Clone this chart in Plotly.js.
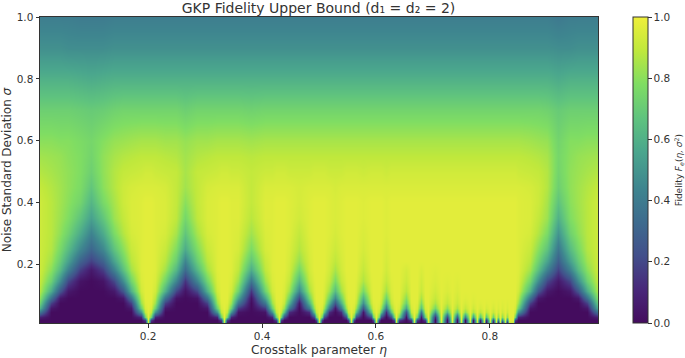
<!DOCTYPE html>
<html><head><meta charset="utf-8">
<script src="https://cdn.plot.ly/plotly-3.0.1.min.js"></script>
<style>html,body{margin:0;padding:0;background:#fff}</style></head>
<body><div id="c" style="width:685px;height:358px"></div>
<script>
const titleText = "GKP Fidelity Upper Bound (d\u2081 = d\u2082 = 2)";
const xTitle = "Crosstalk parameter <i>\u03b7</i>";
const yTitle = "Noise Standard Deviation <i>\u03c3</i>";
const barTitle = "Fidelity <i>F<sub>e</sub></i>(<i>\u03b7, \u03c3</i><sup>2</sup>)";
const sigma = [.01,.02,.03,.045,.06,.075,.09,.115,.145,.18,.21,.25,.3,.35,.4,.45,.5,.55,.6,.7,.8,.9,1];
const upper = [.97,.97,.97,.97,.97,.95,.93,.89,.85,.74,.6,.48,.41];
const P   = [.9,.97,.97,.97,.97,.97,.97,.97,.97,.97,...upper];
const E1  = [0,0,.08,.38,.6,.72,.8,.87,.9,.92,.92,.92,.92,.92,.92,.9,.87,.84,.8,.72,.6,.48,.41];
const E3  = [0,0,0,0,.05,.18,.36,.58,.72,.8,.84,.87,.88,.88,.88,.87,.85,.83,.8,.72,.6,.48,.41];
const E45 = [0,0,0,0,0,0,.05,.25,.47,.63,.7,.76,.81,.83,.84,.84,.83,.82,.79,.72,.6,.48,.41];
const E6  = [0,0,0,0,0,0,0,.05,.2,.42,.54,.64,.73,.78,.8,.81,.81,.8,.79,.72,.6,.47,.41];
const E8  = [0,0,0,0,0,0,0,0,.03,.17,.3,.45,.58,.67,.74,.77,.78,.78,.77,.71,.59,.47,.4];
const T1  = [0,0,0,0,0,0,0,0,0,.05,.18,.31,.43,.54,.62,.68,.72,.74,.75,.7,.58,.47,.4];
const R12 = [0,0,0,0,0,0,0,0,.03,.17,.3,.45,.58,.68,.76,.8,.81,.81,.79,.71,.59,.47,.4];
const R14 = [0,0,0,0,0,0,0,.05,.2,.42,.55,.67,.77,.83,.85,.87,.87,.85,.82,.73,.6,.48,.41];
const S45 = [0,0,0,0,0,0,.05,.25,.47,.65,.73,.8,.87,.9,.92,.92,.9,.87,.83,.74,.6,.48,.41];
const S30 = [0,0,0,0,.05,.18,.36,.6,.74,.84,.88,.91,.94,.95,.95,.94,.91,.88,.84,.74,.6,.48,.41];
const S12 = [0,0,.1,.5,.72,.83,.88,.93,.95,.96,.96,.96,.96,.96,.96,.95,.92,.89,.85,.74,.6,.48,.41];
const S05 = [0,.18,.72,.9,.94,.96,.97,.97,.97,.97,...upper];
const S48 = [0,0,0,0,0,0,.03,.2,.44,.62,.71,.78,.85,.89,.9,.9,.9,.87,.84,.74,.6,.48,.41];
const T2  = [0,0,0,0,0,0,0,.03,.14,.33,.44,.58,.68,.75,.8,.84,.85,.84,.82,.72,.6,.48,.41];
const S24 = [0,0,0,.03,.17,.38,.55,.73,.83,.89,.91,.94,.95,.96,.96,.95,.92,.89,.85,.74,.6,.48,.41];
const T3  = [0,0,0,0,0,0,.03,.15,.38,.58,.68,.77,.84,.88,.9,.9,.9,.88,.84,.73,.6,.48,.41];
const T4  = [0,0,0,0,0,.05,.2,.45,.62,.75,.82,.87,.9,.93,.94,.94,.92,.89,.85,.74,.6,.48,.41];
const S18 = [0,0,0,.12,.4,.6,.73,.84,.9,.93,.94,.95,.96,.96,.96,.95,.92,.89,.85,.74,.6,.48,.41];
const S09 = [0,0,.22,.66,.82,.9,.93,.95,.96,.97,...upper];
const T5  = [0,0,0,0,.05,.25,.45,.64,.77,.85,.89,.92,.94,.95,.95,.94,.92,.89,.85,.74,.6,.48,.41];
const T6  = [0,0,0,.04,.25,.48,.6,.76,.86,.9,.92,.94,.95,.96,.96,.95,.92,.89,.85,.74,.6,.48,.41];
const T8  = [0,0,.03,.25,.55,.72,.8,.88,.92,.94,...upper];
const T9  = [0,0,.06,.38,.66,.78,.85,.91,.93,.95,...upper];
const T10 = [0,0,.12,.52,.75,.85,.9,.93,.95,.96,...upper];
const T11 = [0,0,.2,.63,.8,.89,.92,.95,.96,.97,...upper];
const T12 = [0,0,.28,.7,.85,.91,.93,.95,.96,.97,...upper];
const T13 = [0,0,.4,.8,.9,.94,.96,.97,.97,.97,...upper];
const T14 = [0,.03,.5,.85,.92,.95,.96,.97,.97,.97,...upper];
const T15 = [0,.1,.65,.88,.94,.96,.97,.97,.97,.97,...upper];
const T17 = [0,.18,.72,.9,.94,.96,.97,.97,.97,.97,...upper];
const T18 = [0,.42,.8,.92,.95,.96,.97,.97,.97,.97,...upper];
const TL  = [0,0,0,0,0,0,0,0,.05,.18,.28,.38,.5,.6,.67,.72,.74,.75,.74,.7,.58,.47,.39];
const eta = [.01,.03,.045,.06,.08,.10,.12,.14,.155,.17,.188,.195,.2,
 .205,.212,.23,.248,.265,.285,.303,.321,.328,.333,
 .338,.345,.357,.38,.405,.417,.424,.429,
 .434,.438,.447,.465,.483,.491,.495,.5,
 .505,.509,.518,.528,.538,.547,.551,.556,
 .561,.565,.578,.591,.595,.6,
 .605,.609,.618,.627,.631,.636,
 .641,.652,.662,.667,.672,.68,.687,.692,.703,.714,.724,.733,.742,.75,.757,.765,.771,.778,.783,.789,.794,.8,.805,.81,.814,.818,.822,.826,.83,.834,.84,
 .845,.85,.87,.885,.90,.92,.94,.955,.97,.99];
const fidelityColumns = [E1,E3,E45,E6,E8,T1,R12,R14,S45,S30,S12,S05,P,
 S05,S12,S30,S48,T2,S48,S30,S12,S05,P,
 S05,S12,S24,T3,S24,S12,S05,P,
 S05,S09,S18,T4,S18,S09,S05,P,
 S05,S09,S18,T5,S18,S09,S05,P,
 S05,S09,T6,S09,S05,P,
 S05,S09,S18,S09,S05,P,
 S05,T8,S05,P,S05,T9,S05,P,T10,P,T11,P,T12,P,T13,P,T14,P,T15,P,T15,P,T17,P,T18,P,T18,P,T18,P,P,
 S05,S12,S30,S45,R14,TL,E6,E45,E3,E1];
const colorStops = [[0,'#440c5e'],[.11,'#48287a'],[.22,'#424f8b'],[.33,'#3d6b8e'],[.44,'#3e858f'],[.56,'#4aa68d'],[.67,'#5fc37e'],[.78,'#7fdd63'],[.89,'#bfe83c'],[1,'#efef3a']];
const tickVals = [.2,.4,.6,.8];
const yTickVals = [.2,.4,.6,.8,1];
const barTicks = [0,.2,.4,.6,.8,1];

const z = sigma.map((s,i)=>fidelityColumns.map(col=>col[i]));
const ink = '#333';
const trace = {type:'heatmap',x:eta,y:sigma,z:z,zmin:0,zmax:1,zsmooth:'best',colorscale:colorStops,
  hoverinfo:'skip',
  colorbar:{xref:'container',x:633/685,xanchor:'left',thickness:14.5,thicknessmode:'pixels',len:1,lenmode:'fraction',y:0,yanchor:'bottom',
    xpad:0,ypad:0,outlinecolor:ink,outlinewidth:1,ticks:'outside',ticklen:3.5,tickcolor:ink,tickvals:barTicks,tickformat:'.1f',
    tickfont:{family:'DejaVu Sans',size:10.5,color:ink},
    title:{text:barTitle,side:'right',font:{family:'DejaVu Sans',size:9,color:ink}}}};
const layout = {width:685,height:358,paper_bgcolor:'#fff',plot_bgcolor:'#fff',margin:{l:40,r:87,t:16.5,b:34.5},
  font:{family:'DejaVu Sans',color:ink},
  title:{text:titleText,font:{family:'DejaVu Sans',size:14,color:ink},x:(182+455)/2/685,xanchor:'center',y:0.978,yanchor:'middle'},
  xaxis:{range:[.01,.99],tickvals:tickVals,tickformat:'.1f',ticks:'outside',ticklen:3.5,tickcolor:ink,showgrid:false,zeroline:false,
    showline:true,mirror:true,linecolor:ink,linewidth:1,tickfont:{size:10.5,color:ink},title:{text:xTitle,font:{size:12.2,color:ink},standoff:4}},
  yaxis:{range:[.01,1],tickvals:yTickVals,tickformat:'.1f',ticks:'outside',ticklen:3.5,tickcolor:ink,showgrid:false,zeroline:false,
    showline:true,mirror:true,linecolor:ink,linewidth:1,tickfont:{size:10.5,color:ink},title:{text:yTitle,font:{size:12,color:ink},standoff:6}}};
Plotly.newPlot('c',[trace],layout,{displayModeBar:false,staticPlot:true});
</script></body></html>
